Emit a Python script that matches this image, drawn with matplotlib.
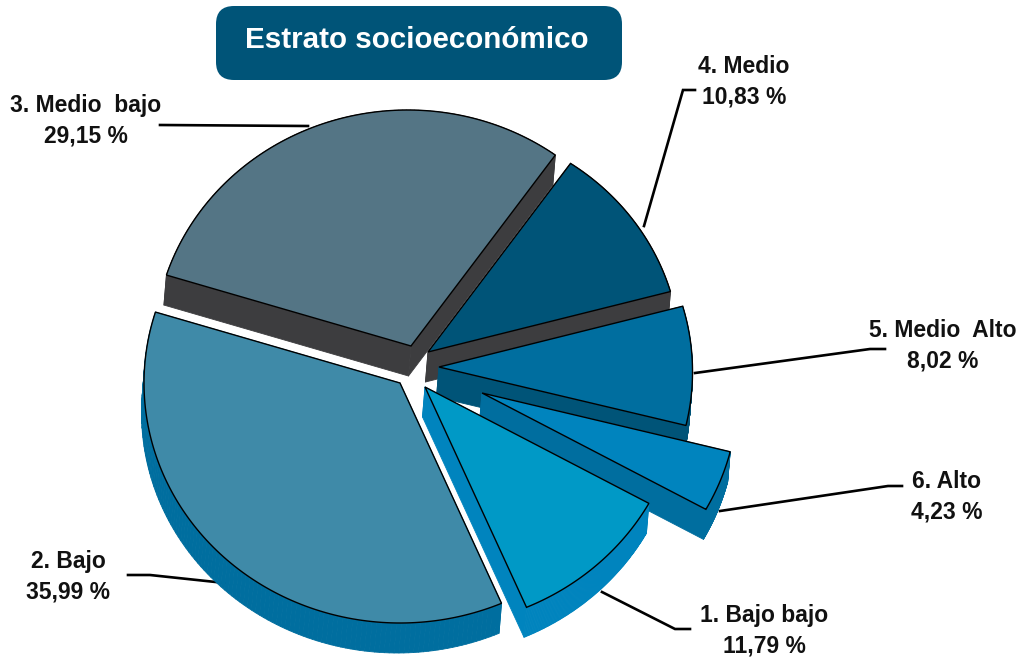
import numpy as np
import matplotlib
matplotlib.use("Agg")
import matplotlib.pyplot as plt
from matplotlib.patches import Polygon, FancyBboxPatch
from matplotlib.collections import PolyCollection

# ---- data ----
labels = ["1. Bajo bajo", "2. Bajo", "3. Medio  bajo", "4. Medio", "5. Medio  Alto", "6. Alto"]
values = [11.79, 35.99, 29.15, 10.83, 8.02, 4.23]
value_labels = ["11,79 %", "35,99 %", "29,15 %", "10,83 %", "8,02 %", "4,23 %"]
title = "Estrato socioeconómico"

# ---- style ----
top_colors = ["#0099C6", "#3F8AA8", "#547585", "#005478", "#006E9F", "#0084BE"]
side_colors = ["#0084BE", "#006E9F", "#3D3D3F", "#3D3D3F", "#005478", "#006E9F"]
tips = [(425, 387), (400, 383), (411, 346), (428, 352), (439, 367), (482, 393)]
draw_order = [2, 3, 4, 5, 1, 0]
RX, RY = 256, 240
DEPTH = (-2.5, 30)
START = -28.4                     # start angle of first slice, clockwise
# small perspective correction at each slice's start boundary
nudge = [-0.6, 4.2, 3.2, 0.0, -0.8, -1.0]
# radius scale at start and end of each slice (far slices look smaller)
rscale = [(1, 1), (1, 1), (1.0, 0.975), (0.963, 0.98), (0.985, 0.995), (1, 1)]
label_pos = [(764, 631), (68, 577), (86, 121), (744, 82), (943, 346), (947, 497)]
leaders = [
    [(690, 629), (675, 629), (602, 592)],
    [(128, 575), (150, 575), (225, 583)],
    [(160, 125), (308, 126)],
    [(695, 90), (683, 90), (644, 226)],
    [(885, 349), (870, 349), (695, 373)],
    [(902, 486), (888, 486), (720, 511)],
]

plt.rcParams["font.family"] = ["Liberation Sans", "DejaVu Sans"]
fig = plt.figure(figsize=(10.16, 6.61), dpi=100)
ax = fig.add_axes([0, 0, 1, 1])
ax.set_xlim(0, 1016)
ax.set_ylim(661, 0)
ax.axis("off")

# leaders go behind the pie
for pts in leaders:
    xs, ys = zip(*pts)
    ax.plot(xs, ys, color="black", lw=1.9, zorder=1, solid_joinstyle="miter")

# slice geometry comes from the values
sweep = np.array(values) / sum(values) * 360
cum = START - np.concatenate([[0], np.cumsum(sweep)])
n = len(values)
for rank, i in enumerate(draw_order):
    a0 = cum[i] + nudge[i]
    a1 = cum[i + 1] + nudge[(i + 1) % n]
    t = np.radians(np.linspace(a0, a1, 120))
    s = np.linspace(rscale[i][0], rscale[i][1], 120)
    cx, cy = tips[i]
    rim = np.column_stack([cx + s * RX * np.cos(t), cy - s * RY * np.sin(t)])
    poly = np.vstack([[cx, cy], rim])
    closed = np.vstack([poly, poly[:1]])
    d = np.array(DEPTH)
    quads = [[closed[k], closed[k + 1], closed[k + 1] + d, closed[k] + d] for k in range(len(poly))]
    ax.add_collection(PolyCollection(quads, facecolors=side_colors[i], edgecolors=side_colors[i],
                                     linewidths=0.6, zorder=2 + rank))
    ax.add_patch(Polygon(poly, closed=True, facecolor=top_colors[i], edgecolor="black",
                         lw=1.0, joinstyle="miter", zorder=2.5 + rank))

# labels
for (x, y), lab, val in zip(label_pos, labels, value_labels):
    ax.text(x, y, lab + "\n" + val, ha="center", va="center", fontsize=16.5, fontweight="bold",
            color="#111111", linespacing=1.42, zorder=20)

# title box
ax.add_patch(FancyBboxPatch((231, 21), 376, 44, boxstyle="round,pad=15,rounding_size=18",
                            facecolor="#005478", edgecolor="none", zorder=20))
ax.text(417, 40, title, ha="center", va="center", fontsize=21.3, fontweight="bold", color="white", zorder=21)

fig.savefig("out.png", dpi=100)
